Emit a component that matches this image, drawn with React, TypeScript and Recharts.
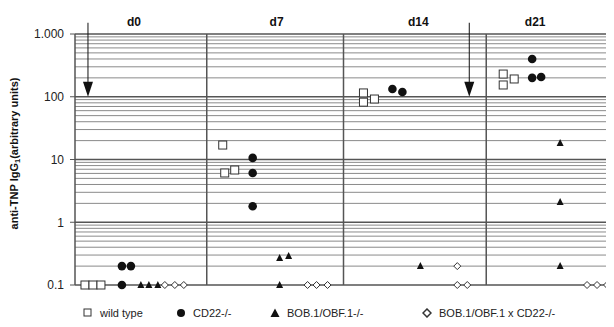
import { Label, Legend, ReferenceLine, Scatter, ScatterChart, XAxis, YAxis } from "recharts";

// x is a slot position along the strip (panel d0 starts at 0), y is anti-TNP IgG1
const wildTypeX = [1.0, 1.8, 2.6, 14.8, 15.0, 16.0, 28.9, 28.9, 30.0, 42.9, 42.9, 44.0];
const wildTypeY = [0.1, 0.1, 0.1, 17, 6.1, 6.8, 115, 82, 92, 230, 154, 192];

const cd22X = [4.7, 5.6, 4.7, 17.8, 17.8, 17.8, 31.8, 32.8, 45.8, 45.8, 46.7];
const cd22Y = [0.2, 0.2, 0.1, 10.6, 6.1, 1.8, 133, 119, 400, 200, 206];

const bobX = [6.6, 7.4, 8.3, 20.5, 21.4, 20.5, 34.6, 48.6, 48.6, 48.6];
const bobY = [0.1, 0.1, 0.1, 0.27, 0.29, 0.1, 0.2, 18.4, 2.1, 0.2];

const doubleX = [9.0, 10.0, 10.9, 23.3, 24.2, 25.3, 38.3, 38.3, 39.3, 51.3, 52.3, 53.3];
const doubleY = [0.1, 0.1, 0.1, 0.1, 0.1, 0.1, 0.2, 0.1, 0.1, 0.1, 0.1, 0.1];

const arrowX = [1.3, 39.5];
const arrowY = [100, 100];

const days = ["d0", "d7", "d14", "d21"];
const dayLabelX = [5.9, 20.2, 34.4, 46.1];
const panelEdges = [13.2, 26.9, 41.2];

const yTicks = [0.1, 1, 10, 100, 1000];
const decades = [0.1, 1, 10, 100];
const multiples = [2, 3, 4, 5, 6, 7, 8, 9];

const seriesNames = ["wild type", "CD22-/-", "BOB.1/OBF.1-/-", "BOB.1/OBF.1 x CD22-/-"];

const toPoints = (xs: number[], ys: number[]) => xs.map((x, i) => ({ x, y: ys[i] }));

const FONT = '"Liberation Sans", Arial, sans-serif';

const SquareDot = (p: any) => (
  <rect x={p.cx - 4} y={p.cy - 4} width={8} height={8} fill="#fff" stroke="#333" strokeWidth={1} />
);
const CircleDot = (p: any) => <circle cx={p.cx} cy={p.cy} r={4.3} fill="#111" />;
const TriangleDot = (p: any) => (
  <path d={`M${p.cx},${p.cy - 4} L${p.cx + 3.5},${p.cy + 3} L${p.cx - 3.5},${p.cy + 3} Z`} fill="#111" />
);
const DiamondDot = (p: any) => (
  <path
    d={`M${p.cx},${p.cy - 3.5} L${p.cx + 3.5},${p.cy} L${p.cx},${p.cy + 3.5} L${p.cx - 3.5},${p.cy} Z`}
    fill="#fff"
    stroke="#333"
    strokeWidth={1}
  />
);
const ArrowMark = (p: any) => (
  <g>
    <line x1={p.cx} y1={p.cy - 74} x2={p.cx} y2={p.cy - 12} stroke="#111" strokeWidth={1} />
    <path d={`M${p.cx - 5},${p.cy - 15} L${p.cx + 5},${p.cy - 15} L${p.cx},${p.cy} Z`} fill="#111" />
  </g>
);

const YTitle = (props: any) => {
  const vb = props.viewBox || {};
  const cy = (vb.y ?? 34) + (vb.height ?? 251) / 2 - 6;
  return (
    <text
      x={14}
      y={cy}
      transform={`rotate(-90, 14, ${cy})`}
      textAnchor="middle"
      dominantBaseline="central"
      fontFamily={FONT}
      fontWeight="bold"
      fontSize={11}
      fill="#111"
    >
      anti-TNP IgG<tspan fontSize={7.5} dy={3}>1</tspan>
      <tspan dy={-3}>(arbitrary units)</tspan>
    </text>
  );
};

const legendIcons = [
  <rect key="s" x={1} y={1} width={7} height={7} fill="#fff" stroke="#333" />,
  <circle key="c" cx={5} cy={5} r={4} fill="#111" />,
  <path key="t" d="M5,0.5 L9.5,9 L0.5,9 Z" fill="#111" />,
  <path key="d" d="M5,1 L9,5 L5,9 L1,5 Z" fill="#fff" stroke="#333" strokeWidth={1.5} />,
];
const legendLeft = [83, 176, 270, 422];

const LegendBox = () => (
  <div style={{ position: "relative", width: 614, height: 36, fontFamily: FONT, fontSize: 11, color: "#222" }}>
    {seriesNames.map((name, i) => (
      <div
        key={name}
        style={{ position: "absolute", left: legendLeft[i], top: 21, display: "flex", alignItems: "center", gap: 7, whiteSpace: "nowrap", lineHeight: "14px" }}
      >
        <svg width={10} height={10}>{legendIcons[i]}</svg>
        <span>{name}</span>
      </div>
    ))}
  </div>
);

function App() {
  return (
    <div style={{ margin: -8, width: 614, height: 327, background: "#fff" }}>
      <ScatterChart width={614} height={327} margin={{ top: 10, right: 0, bottom: 6, left: 15 }}>
        <XAxis
          type="number"
          dataKey="x"
          orientation="top"
          domain={[0, 54]}
          ticks={dayLabelX}
          tickFormatter={(v: number) => days[dayLabelX.indexOf(v)] ?? ""}
          axisLine={false}
          tickLine={false}
          height={24}
          tick={{ fontFamily: FONT, fontSize: 12, fontWeight: "bold", fill: "#111" }}
        />
        <YAxis
          type="number"
          dataKey="y"
          scale="log"
          domain={[0.1, 1000]}
          ticks={yTicks}
          tickFormatter={(v: number) => (v === 1000 ? "1.000" : String(v))}
          width={60}
          tickSize={5}
          tickMargin={6}
          axisLine={{ stroke: "#555", strokeWidth: 1.5 }}
          tickLine={{ stroke: "#555" }}
          tick={{ fontFamily: FONT, fontSize: 12, fill: "#222" }}
        >
          <Label content={YTitle} />
        </YAxis>
        {decades.map((d) =>
          multiples.map((m) => (
            <ReferenceLine key={`g-${d}-${m}`} y={d * m} stroke="#8a8a8a" strokeWidth={1} />
          ))
        )}
        {yTicks.map((v) => (
          <ReferenceLine key={`d-${v}`} y={v} stroke="#555" strokeWidth={1.5} />
        ))}
        {panelEdges.map((x) => (
          <ReferenceLine key={`p-${x}`} x={x} stroke="#555" strokeWidth={1.5} />
        ))}
        <Legend verticalAlign="bottom" content={LegendBox} wrapperStyle={{ left: 0, width: 614 }} />
        <Scatter name={seriesNames[0]} data={toPoints(wildTypeX, wildTypeY)} shape={SquareDot} isAnimationActive={false} />
        <Scatter name={seriesNames[1]} data={toPoints(cd22X, cd22Y)} shape={CircleDot} isAnimationActive={false} />
        <Scatter name={seriesNames[2]} data={toPoints(bobX, bobY)} shape={TriangleDot} isAnimationActive={false} />
        <Scatter name={seriesNames[3]} data={toPoints(doubleX, doubleY)} shape={DiamondDot} isAnimationActive={false} />
        <Scatter name="arrows" data={toPoints(arrowX, arrowY)} shape={ArrowMark} isAnimationActive={false} legendType="none" />
      </ScatterChart>
    </div>
  );
}

export default App;
